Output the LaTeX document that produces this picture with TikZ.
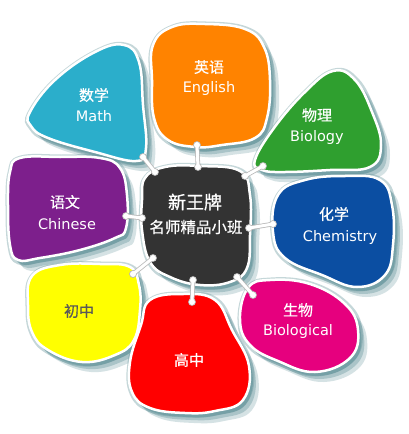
\documentclass[tikz,border=0pt]{standalone}
\usepackage{fontspec}
\newfontfamily\cjk[FakeBold=0.6]{Noto Sans CJK SC}
\newfontfamily\lat{DejaVu Sans}
\definecolor{cMath}{HTML}{2BAECB}
\definecolor{cEng}{HTML}{FF8300}
\definecolor{cBio}{HTML}{2F9F2F}
\definecolor{cChem}{HTML}{0B4EA2}
\definecolor{cChin}{HTML}{7D1F8C}
\definecolor{cYel}{HTML}{FFFF00}
\definecolor{cRed}{HTML}{FF0000}
\definecolor{cMag}{HTML}{E6007E}
\definecolor{cDark}{HTML}{333333}
\definecolor{shadowc}{HTML}{5A8D94}
\pgfdeclarelayer{shad}
\pgfsetlayers{shad,main}
\newcommand\petal[2]{%
 \begin{pgfonlayer}{shad}
 \fill[shadowc,opacity=.25] [shift={(9,10)}] plot[smooth cycle,tension=.7] coordinates {#2};
 \fill[shadowc,opacity=.35] [shift={(6,7)}] plot[smooth cycle,tension=.7] coordinates {#2};
 \fill[shadowc,opacity=.45] [shift={(3,4)}] plot[smooth cycle,tension=.7] coordinates {#2};
 \draw[shadowc,opacity=.35,line width=7pt] [shift={(1,1)}] plot[smooth cycle,tension=.7] coordinates {#2};
 \end{pgfonlayer}
 \filldraw[fill=#1,draw=white,line width=2.5pt] plot[smooth cycle,tension=.7] coordinates {#2};}
\tikzset{
 lab/.style={text=white,font=\lat\fontsize{14.5}{16}\selectfont,inner sep=0pt},
 zh/.style={text=white,font=\cjk\fontsize{15}{17}\selectfont,inner sep=0pt},
 linkline/.style={draw=white,line width=3pt},
 linkedge/.style={draw=gray!55,line width=4.6pt},
}
\newcommand\linkab[2]{%
 \draw[linkedge] (#1) -- (#2);
 \fill[gray!55] (#1) circle (3.9pt) (#2) circle (3.9pt);
 \draw[linkline] (#1) -- (#2);
 \fill[white] (#1) circle (3pt) (#2) circle (3pt);}
\begin{document}
\begin{tikzpicture}[x=1pt,y=-1pt]
\begin{pgfonlayer}{shad}
\fill[white] (0,0) rectangle (409,434);
\end{pgfonlayer}
\useasboundingbox (0,0) rectangle (409,434);
% petals
\petal{cMath}{(30,112) (55,80) (95,52) (124,45) (139,62) (143,105) (146,148) (136,161) (95,152) (48,138) (31,126)}
\petal{cEng}{(153,45) (172,27) (205,24) (245,29) (264,47) (270,80) (267,118) (255,138) (222,145) (196,147) (168,140) (154,118) (152,80)}
\petal{cBio}{(255,160) (274,128) (305,92) (333,71) (355,80) (372,112) (381,145) (370,167) (330,170) (285,172) (262,170)}
\petal{cChem}{(278,195) (305,180) (345,176) (380,180) (392,205) (393,245) (385,275) (357,287) (322,275) (285,258) (273,232)}
\petal{cChin}{(10,172) (20,158) (60,157) (100,158) (120,168) (127,195) (126,228) (115,238) (80,250) (40,258) (18,260) (10,245) (8,205)}
\petal{cYel}{(32,276) (60,265) (100,264) (130,267) (139,285) (140,310) (134,340) (115,355) (82,362) (48,350) (32,332) (28,305)}
\petal{cRed}{(150,300) (183,294) (215,300) (232,330) (249,366) (243,400) (215,411) (185,413) (150,408) (132,392) (130,362) (141,325)}
\petal{cMag}{(248,288) (270,280) (310,284) (345,304) (358,330) (350,358) (315,372) (278,361) (250,345) (240,320)}
\petal{cDark}{(145,178) (165,167) (200,166) (240,171) (250,195) (250,235) (247,268) (230,282) (200,285) (170,277) (150,262) (142,230) (142,200)}
% connector end points
\coordinate (m1) at (143,157); \coordinate (m2) at (155,172);
\coordinate (e1) at (197,145); \coordinate (e2) at (198,167);
\coordinate (b1) at (263,166); \coordinate (b2) at (245,176);
\coordinate (c1) at (273,224); \coordinate (c2) at (249,228);
\coordinate (z1) at (126,216); \coordinate (z2) at (142,218);
\coordinate (y1) at (133,274); \coordinate (y2) at (153,258);
\coordinate (r1) at (193,280); \coordinate (r2) at (192,302);
\coordinate (g1) at (237,277); \coordinate (g2) at (253,295);
\linkab{m1}{m2}
\linkab{e1}{e2}
\linkab{b1}{b2}
\linkab{c1}{c2}
\linkab{z1}{z2}
\linkab{y1}{y2}
\linkab{r1}{r2}
\linkab{g1}{g2}
% texts
\node[zh] (mathzh) at (94,95) {数学};
\node[lab] (mathen) at (94,116) {Math};
\node[zh] (engzh) at (209,67) {英语};
\node[lab] (engen) at (209,88) {English};
\node[zh] (biozh) at (317,115) {物理};
\node[lab] (bioen) at (317,137) {Biology};
\node[zh] (chemzh) at (334,214) {化学};
\node[lab] (chemen) at (340,237) {Chemistry};
\node[zh] (chinzh) at (65,202) {语文};
\node[lab] (chinen) at (67,224) {Chinese};
\node[zh,text=black!65] (yelzh) at (79,311) {初中};
\node[zh] (redzh) at (189,360) {高中};
\node[zh] (magzh) at (298,310) {生物};
\node[lab] (magen) at (298,331) {Biological};
\node[zh,font=\cjk\fontsize{18}{20}\selectfont] (ctr1) at (195,202) {新王牌};
\node[zh,font=\cjk\fontsize{15.5}{17}\selectfont] (ctr2) at (196,227) {名师精品小班};
\end{tikzpicture}
\end{document}
